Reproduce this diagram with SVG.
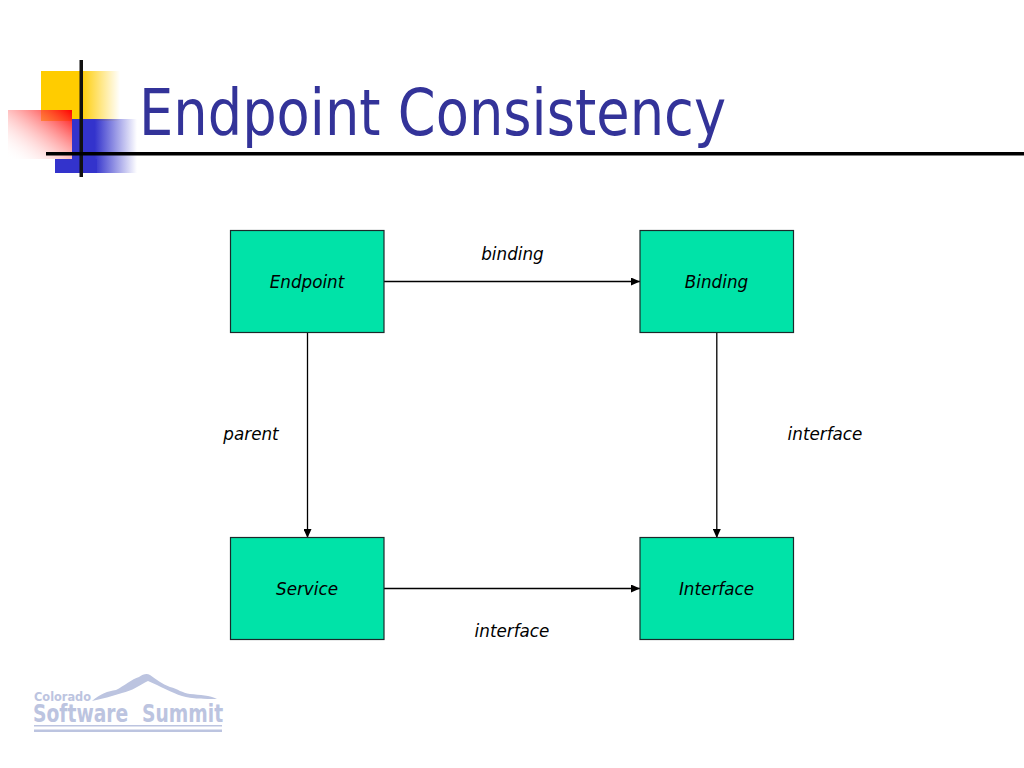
<svg xmlns="http://www.w3.org/2000/svg" width="1024" height="768" viewBox="0 0 1024 768">
<style>
.box{fill:#00e3a8;stroke:#1a2a2a;stroke-width:1.2}
.lb{font:italic 16.800px "DejaVu Sans",sans-serif;fill:#000;text-anchor:middle}
.cn{stroke:#000;stroke-width:1.3;fill:none;marker-end:url(#ah)}
.logo{font-family:"DejaVu Sans",sans-serif;font-weight:bold;fill:#bcc4e0}
</style>
<defs>
<marker id="ah" markerWidth="9" markerHeight="8" refX="9" refY="4" orient="auto" markerUnits="userSpaceOnUse"><path d="M0 0L9 4L0 8Z" fill="#000"/></marker>
<linearGradient id="gy"><stop offset="0.5" stop-color="#ffcc00"/><stop offset="1" stop-color="#ffcc00" stop-opacity="0"/></linearGradient>
<linearGradient id="gb"><stop offset="0.35" stop-color="#3333cc"/><stop offset="1" stop-color="#3333cc" stop-opacity="0"/></linearGradient>
<linearGradient id="gr" x1="1" y1="0" x2="0" y2="1"><stop offset="0" stop-color="#ff0000"/><stop offset="1" stop-color="#ffffff" stop-opacity="0"/></linearGradient>
</defs>
<rect width="1024" height="768" fill="#fff"/>
<g id="decoration">
<rect x="41" y="71" width="79" height="50" fill="url(#gy)"/>
<rect x="72" y="119" width="65" height="54" fill="url(#gb)"/>
<rect x="55" y="159" width="42" height="14" fill="#3333cc"/>
<rect x="8" y="110" width="64" height="49" fill="url(#gr)"/>
<rect x="79.500" y="60" width="3.500" height="117" fill="#111"/>
<rect x="46" y="152" width="978" height="3.500" fill="#000"/>
</g>
<text id="title" x="139" y="135" font-family="'DejaVu Sans',sans-serif" font-size="64" fill="#333399" textLength="587" lengthAdjust="spacingAndGlyphs">Endpoint Consistency</text>
<g id="connectors">
<path class="cn" d="M384 281.500H640"/>
<path class="cn" d="M384 588.500H640"/>
<path class="cn" d="M307.500 333V538"/>
<path class="cn" d="M716.800 333V538"/>
</g>
<g id="edge-labels">
<text class="lb" x="512.500" y="260">binding</text>
<text class="lb" x="251" y="439.500">parent</text>
<text class="lb" x="825" y="439.500">interface</text>
<text class="lb" x="512" y="636.500">interface</text>
</g>
<g id="endpoint"><rect class="box" x="230.500" y="230.500" width="153.500" height="102"/><text class="lb" x="307" y="288">Endpoint</text></g>
<g id="binding"><rect class="box" x="640" y="230.500" width="153.500" height="102"/><text class="lb" x="716.500" y="288">Binding</text></g>
<g id="service"><rect class="box" x="230.500" y="537.500" width="153.500" height="102"/><text class="lb" x="307" y="595">Service</text></g>
<g id="interface"><rect class="box" x="640" y="537.500" width="153.500" height="102"/><text class="lb" x="716.500" y="595">Interface</text></g>
<g id="logo">
<path d="M92 701C100 694 108 691 116 690C124 686 132 679 139 677C143 674 147 673 150 675C156 679 162 684 170 687C178 689 182 693 190 694C200 695 210 695 217 699C205 699 192 699 182 696C172 693 160 686 148 681C140 685 132 691 122 693C112 696 102 699 92 701Z" fill="#bcc4e0"/>
<text class="logo" x="34" y="700.500" font-size="12.500" textLength="57" lengthAdjust="spacingAndGlyphs">Colorado</text>
<text class="logo" transform="translate(33 722) scale(.78 1)" font-size="24">Software</text>
<text class="logo" transform="translate(142 722) scale(.78 1)" font-size="24">Summit</text>
<rect x="34" y="725" width="188" height="1.500" fill="#bcc4e0"/>
<rect x="34" y="729.500" width="188" height="2.500" fill="#bcc4e0"/>
</g>
</svg>
